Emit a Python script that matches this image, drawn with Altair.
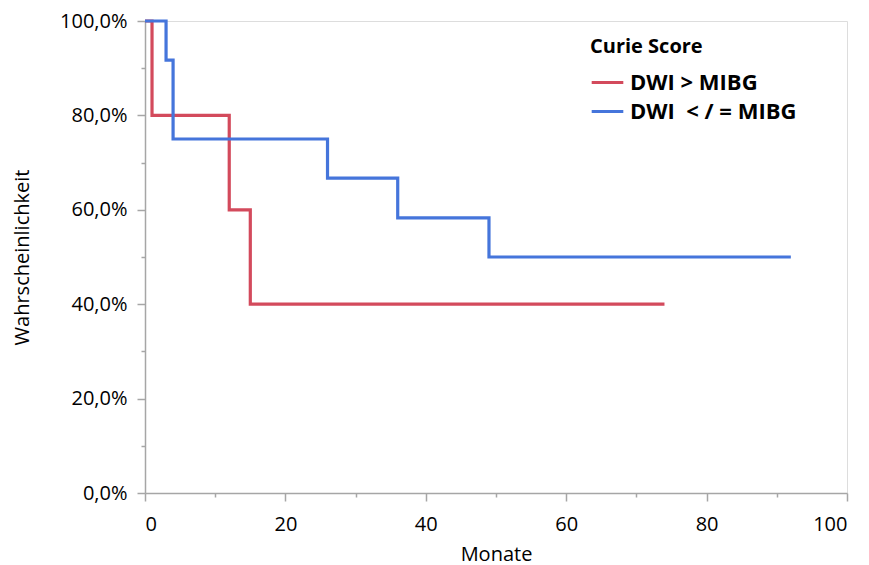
import altair as alt
import pandas as pd

groups = ["DWI > MIBG", "DWI\u00a0 < / = MIBG"]
red_t = [0, 1, 12, 15, 74]
red_s = [1.0, 0.8, 0.6, 0.4, 0.4]
blue_t = [0, 3, 4, 26, 36, 49, 92]
blue_s = [1.0, 0.917, 0.75, 0.667, 0.583, 0.5, 0.5]

rows = []
for i, (t, s) in enumerate(zip(red_t, red_s)):
    rows.append({"Monate": t, "p": s, "g": groups[0], "o": i})
for i, (t, s) in enumerate(zip(blue_t, blue_s)):
    rows.append({"Monate": t, "p": s, "g": groups[1], "o": i})
df = pd.DataFrame(rows)

FONT = "Open Sans"
GRAY = "#a6a6a6"

chart = alt.Chart(df).mark_line(interpolate="step-after", strokeWidth=3.2).encode(
    x=alt.X("Monate:Q", scale=alt.Scale(domain=[0, 100], nice=False),
            axis=alt.Axis(title="Monate", values=list(range(0, 101, 10)),
                          labelExpr="datum.value % 20 == 0 ? datum.label : ''",
                          tickSize={"condition": {"test": "datum.value % 20 != 0", "value": 4}, "value": 8},
                          grid=False, domainColor=GRAY, tickColor=GRAY, tickWidth=1.5, domainWidth=1.5,
                          labelFont=FONT, labelFontSize=20, titleFont=FONT, titleFontSize=20,
                          titleFontWeight="normal", labelColor="black", titleColor="black",
                          labelPadding=13, titlePadding=10)),
    y=alt.Y("p:Q", scale=alt.Scale(domain=[0, 1], nice=False),
            axis=alt.Axis(title="Wahrscheinlichkeit", values=[i / 10 for i in range(11)],
                          labelExpr="round(datum.value*10) % 2 == 0 ? replace(format(datum.value, '.1%'), '.', ',') : ''",
                          tickSize={"condition": {"test": "round(datum.value*10) % 2 != 0", "value": 4}, "value": 8},
                          grid=False, domainColor=GRAY, tickColor=GRAY, tickWidth=1.5, domainWidth=1.5,
                          labelFont=FONT, labelFontSize=20, titleFont=FONT, titleFontSize=20,
                          titleFontWeight="normal", labelColor="black", titleColor="black",
                          labelPadding=10, titlePadding=27)),
    color=alt.Color("g:N", scale=alt.Scale(domain=groups, range=["#d34a5c", "#4575db"]),
                    legend=alt.Legend(title="Curie Score", orient="none", legendX=445, legendY=16,
                                      symbolType="stroke", symbolSize=1000, symbolStrokeWidth=3.2,
                                      titleFont=FONT, titleFontSize=20, titleFontWeight="bold",
                                      labelFont=FONT, labelFontSize=22, labelFontWeight="bold",
                                      titleColor="black", labelColor="black", rowPadding=-5,
                                      titlePadding=8, labelOffset=5, labelLimit=400)),
    order="o:Q",
).properties(width=702, height=472, padding={"left": 4, "top": 3, "right": 5, "bottom": 5}
).configure_view(stroke=GRAY, strokeWidth=1.5).configure(background="white")

chart.save("out.html", embed_options={"renderer": "svg", "actions": False})
